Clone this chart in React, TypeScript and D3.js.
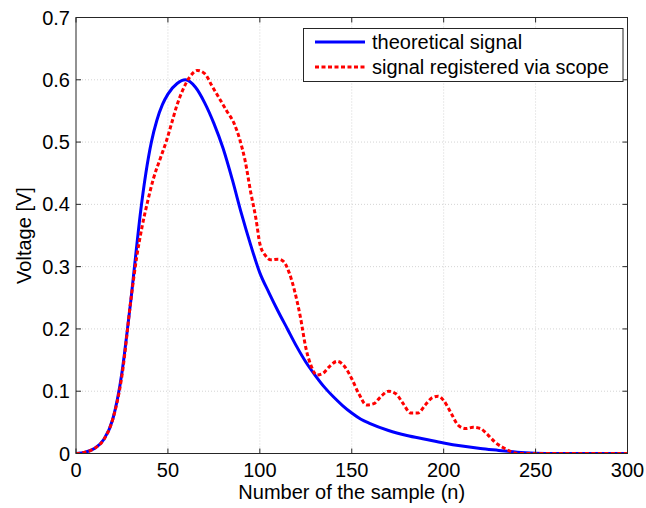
import React from "react";
import * as d3 from "d3";

const blueN = [0, 5, 10, 15, 20, 25, 28, 30, 32, 35, 38, 41, 44, 47, 50, 55, 59.5, 65, 70, 75, 80, 85, 90, 95, 100, 105, 110, 115, 120, 125, 130, 135, 140, 145, 150, 155, 160, 170, 180, 190, 200, 210, 220, 230, 240, 250, 260, 300];
const blueV = [0, 0.002, 0.008, 0.022, 0.055, 0.13, 0.2, 0.25, 0.305, 0.385, 0.45, 0.5, 0.535, 0.56, 0.577, 0.594, 0.6, 0.588, 0.563, 0.53, 0.49, 0.44, 0.385, 0.335, 0.29, 0.258, 0.228, 0.2, 0.172, 0.147, 0.126, 0.107, 0.091, 0.077, 0.065, 0.055, 0.048, 0.037, 0.029, 0.023, 0.017, 0.012, 0.008, 0.005, 0.002, 0.0005, 0, 0];

const redN = [0, 5, 10, 15, 20, 25, 30, 33, 36, 39, 42, 46, 49, 52, 55, 58, 62, 66, 70, 74, 78, 82, 86, 89, 92, 95, 98, 100, 103, 106, 110, 113, 116, 119, 122, 125, 128, 131, 134, 138, 142, 146, 150, 154, 158, 162, 166, 170, 174, 178, 182, 186, 190, 194, 197, 200, 204, 208, 212, 216, 220, 224, 228, 232, 236, 240, 300];
const redV = [0, 0.002, 0.008, 0.022, 0.055, 0.125, 0.25, 0.315, 0.365, 0.405, 0.44, 0.475, 0.5, 0.53, 0.56, 0.583, 0.605, 0.615, 0.61, 0.59, 0.57, 0.55, 0.53, 0.505, 0.47, 0.42, 0.375, 0.337, 0.318, 0.311, 0.312, 0.308, 0.29, 0.26, 0.22, 0.17, 0.14, 0.126, 0.128, 0.14, 0.148, 0.14, 0.12, 0.095, 0.078, 0.08, 0.092, 0.1, 0.096, 0.08, 0.065, 0.065, 0.078, 0.09, 0.092, 0.085, 0.065, 0.045, 0.04, 0.042, 0.04, 0.03, 0.018, 0.01, 0.004, 0, 0];

const xTicks = [0, 50, 100, 150, 200, 250, 300];
const yTicks = [0, 0.1, 0.2, 0.3, 0.4, 0.5, 0.6, 0.7];
const seriesNames = ["theoretical signal", "signal registered via scope"];

export default function App() {
  const W = 646, H = 508;
  const L = 76, R = 627.5, T = 17.5, B = 453.5;
  const x = d3.scaleLinear().domain([0, 300]).range([L, R]);
  const y = d3.scaleLinear().domain([0, 0.7]).range([B, T]);
  const line = d3.line<[number, number]>().x(d => x(d[0])).y(d => y(d[1])).curve(d3.curveMonotoneX);
  const blue = line(blueN.map((n, i) => [n, blueV[i]]))!;
  const red = line(redN.map((n, i) => [n, redV[i]]))!;
  const font = "Liberation Sans, Arial, sans-serif";
  const fs = 20;
  return (
    <svg width={W} height={H} style={{ position: "absolute", left: 0, top: 0, background: "#fff" }}>
      <rect x={0} y={0} width={W} height={H} fill="#fff" />
      {xTicks.slice(1, -1).map(t => (
        <line key={"gx" + t} x1={x(t)} x2={x(t)} y1={T} y2={B} stroke="#d4d4d4" strokeWidth={1} strokeDasharray="1 2" />
      ))}
      {yTicks.slice(1, -1).map(t => (
        <line key={"gy" + t} x1={L} x2={R} y1={y(t)} y2={y(t)} stroke="#d4d4d4" strokeWidth={1} strokeDasharray="1 2" />
      ))}
      <clipPath id="clip"><rect x={L} y={T} width={R - L} height={B - T} /></clipPath>
      <g clipPath="url(#clip)">
        <path d={blue} fill="none" stroke="#0000ff" strokeWidth={3} />
        <path d={red} fill="none" stroke="#ff0000" strokeWidth={3} strokeDasharray="4 2.5" />
      </g>
      <rect x={L} y={T} width={R - L} height={B - T} fill="none" stroke="#262626" strokeWidth={1} />
      {xTicks.map(t => (
        <g key={"tx" + t}>
          <line x1={x(t)} x2={x(t)} y1={B} y2={B - 5} stroke="#262626" />
          <line x1={x(t)} x2={x(t)} y1={T} y2={T + 5} stroke="#262626" />
          <text x={x(t)} y={477} textAnchor="middle" fontFamily={font} fontSize={fs} fill="#000">{t}</text>
        </g>
      ))}
      {yTicks.map(t => (
        <g key={"ty" + t}>
          <line x1={L} x2={L + 5} y1={y(t)} y2={y(t)} stroke="#262626" />
          <line x1={R} x2={R - 5} y1={y(t)} y2={y(t)} stroke="#262626" />
          <text x={70} y={y(t) + 7} textAnchor="end" fontFamily={font} fontSize={fs} fill="#000">{t === 0 ? "0" : t.toFixed(1)}</text>
        </g>
      ))}
      <text x={(L + R) / 2} y={499} textAnchor="middle" fontFamily={font} fontSize={fs} fill="#000">Number of the sample (n)</text>
      <text transform={`translate(31, ${(T + B) / 2}) rotate(-90)`} textAnchor="middle" fontFamily={font} fontSize={fs} fill="#000">Voltage [V]</text>
      <rect x={303.5} y={28.5} width={319.5} height={53} fill="#fff" stroke="#262626" strokeWidth={1} />
      <line x1={315} x2={365} y1={42} y2={42} stroke="#0000ff" strokeWidth={3} />
      <line x1={315} x2={365} y1={67} y2={67} stroke="#ff0000" strokeWidth={3} strokeDasharray="4 2.5" />
      <text x={372} y={48.5} fontFamily={font} fontSize={fs} fill="#000">{seriesNames[0]}</text>
      <text x={372} y={73.5} fontFamily={font} fontSize={fs} fill="#000">{seriesNames[1]}</text>
    </svg>
  );
}
